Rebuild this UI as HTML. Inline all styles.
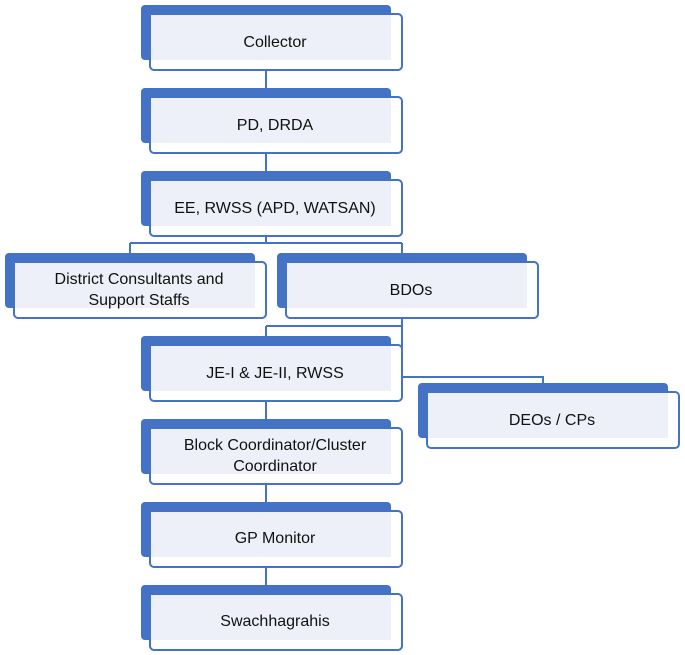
<!DOCTYPE html>
<html><head><style>html,body{margin:0;padding:0;background:#fff}svg{display:block}text{font-family:"Liberation Sans",sans-serif;font-size:16px;fill:#111;text-anchor:middle}</style></head>
<body>
<svg width="685" height="655" viewBox="0 0 685 655" xmlns="http://www.w3.org/2000/svg">
<g stroke="#4472C4" stroke-width="2" fill="none">
<path d="M266 70V88M266 153V171M266 236V243M130 243H402M130 243V262M402 243V262"/>
<path d="M402 318V377M266 326H402M266 326V345M402 377H543V392M266 401V428M266 484V511M266 566V594"/>
</g>
<defs>
<g id="n">
<rect x="0" y="0" width="250" height="55" rx="4" fill="#4472C4"/>
<rect x="9" y="9" width="252" height="56" rx="4" fill="#fff" stroke="#4472C4" stroke-width="2"/>
<rect x="10" y="10" width="240" height="45" fill="#EDF0F8"/>
</g>
</defs>
<use href="#n" x="141" y="5"/>
<use href="#n" x="141" y="88"/>
<use href="#n" x="141" y="171"/>
<use href="#n" x="5" y="253"/>
<use href="#n" x="277" y="253"/>
<use href="#n" x="141" y="336"/>
<use href="#n" x="418" y="383"/>
<use href="#n" x="141" y="419"/>
<use href="#n" x="141" y="502"/>
<use href="#n" x="141" y="585"/>
<text x="275" y="47">Collector</text>
<text x="275" y="130">PD, DRDA</text>
<text x="275" y="213">EE, RWSS (APD, WATSAN)</text>
<text x="139" y="284">District Consultants and</text>
<text x="139" y="305">Support Staffs</text>
<text x="411" y="295">BDOs</text>
<text x="275" y="378">JE-I &amp; JE-II, RWSS</text>
<text x="552" y="425">DEOs / CPs</text>
<text x="275" y="450">Block Coordinator/Cluster</text>
<text x="275" y="471">Coordinator</text>
<text x="275" y="543">GP Monitor</text>
<text x="275" y="626">Swachhagrahis</text>
</svg>
</body></html>
